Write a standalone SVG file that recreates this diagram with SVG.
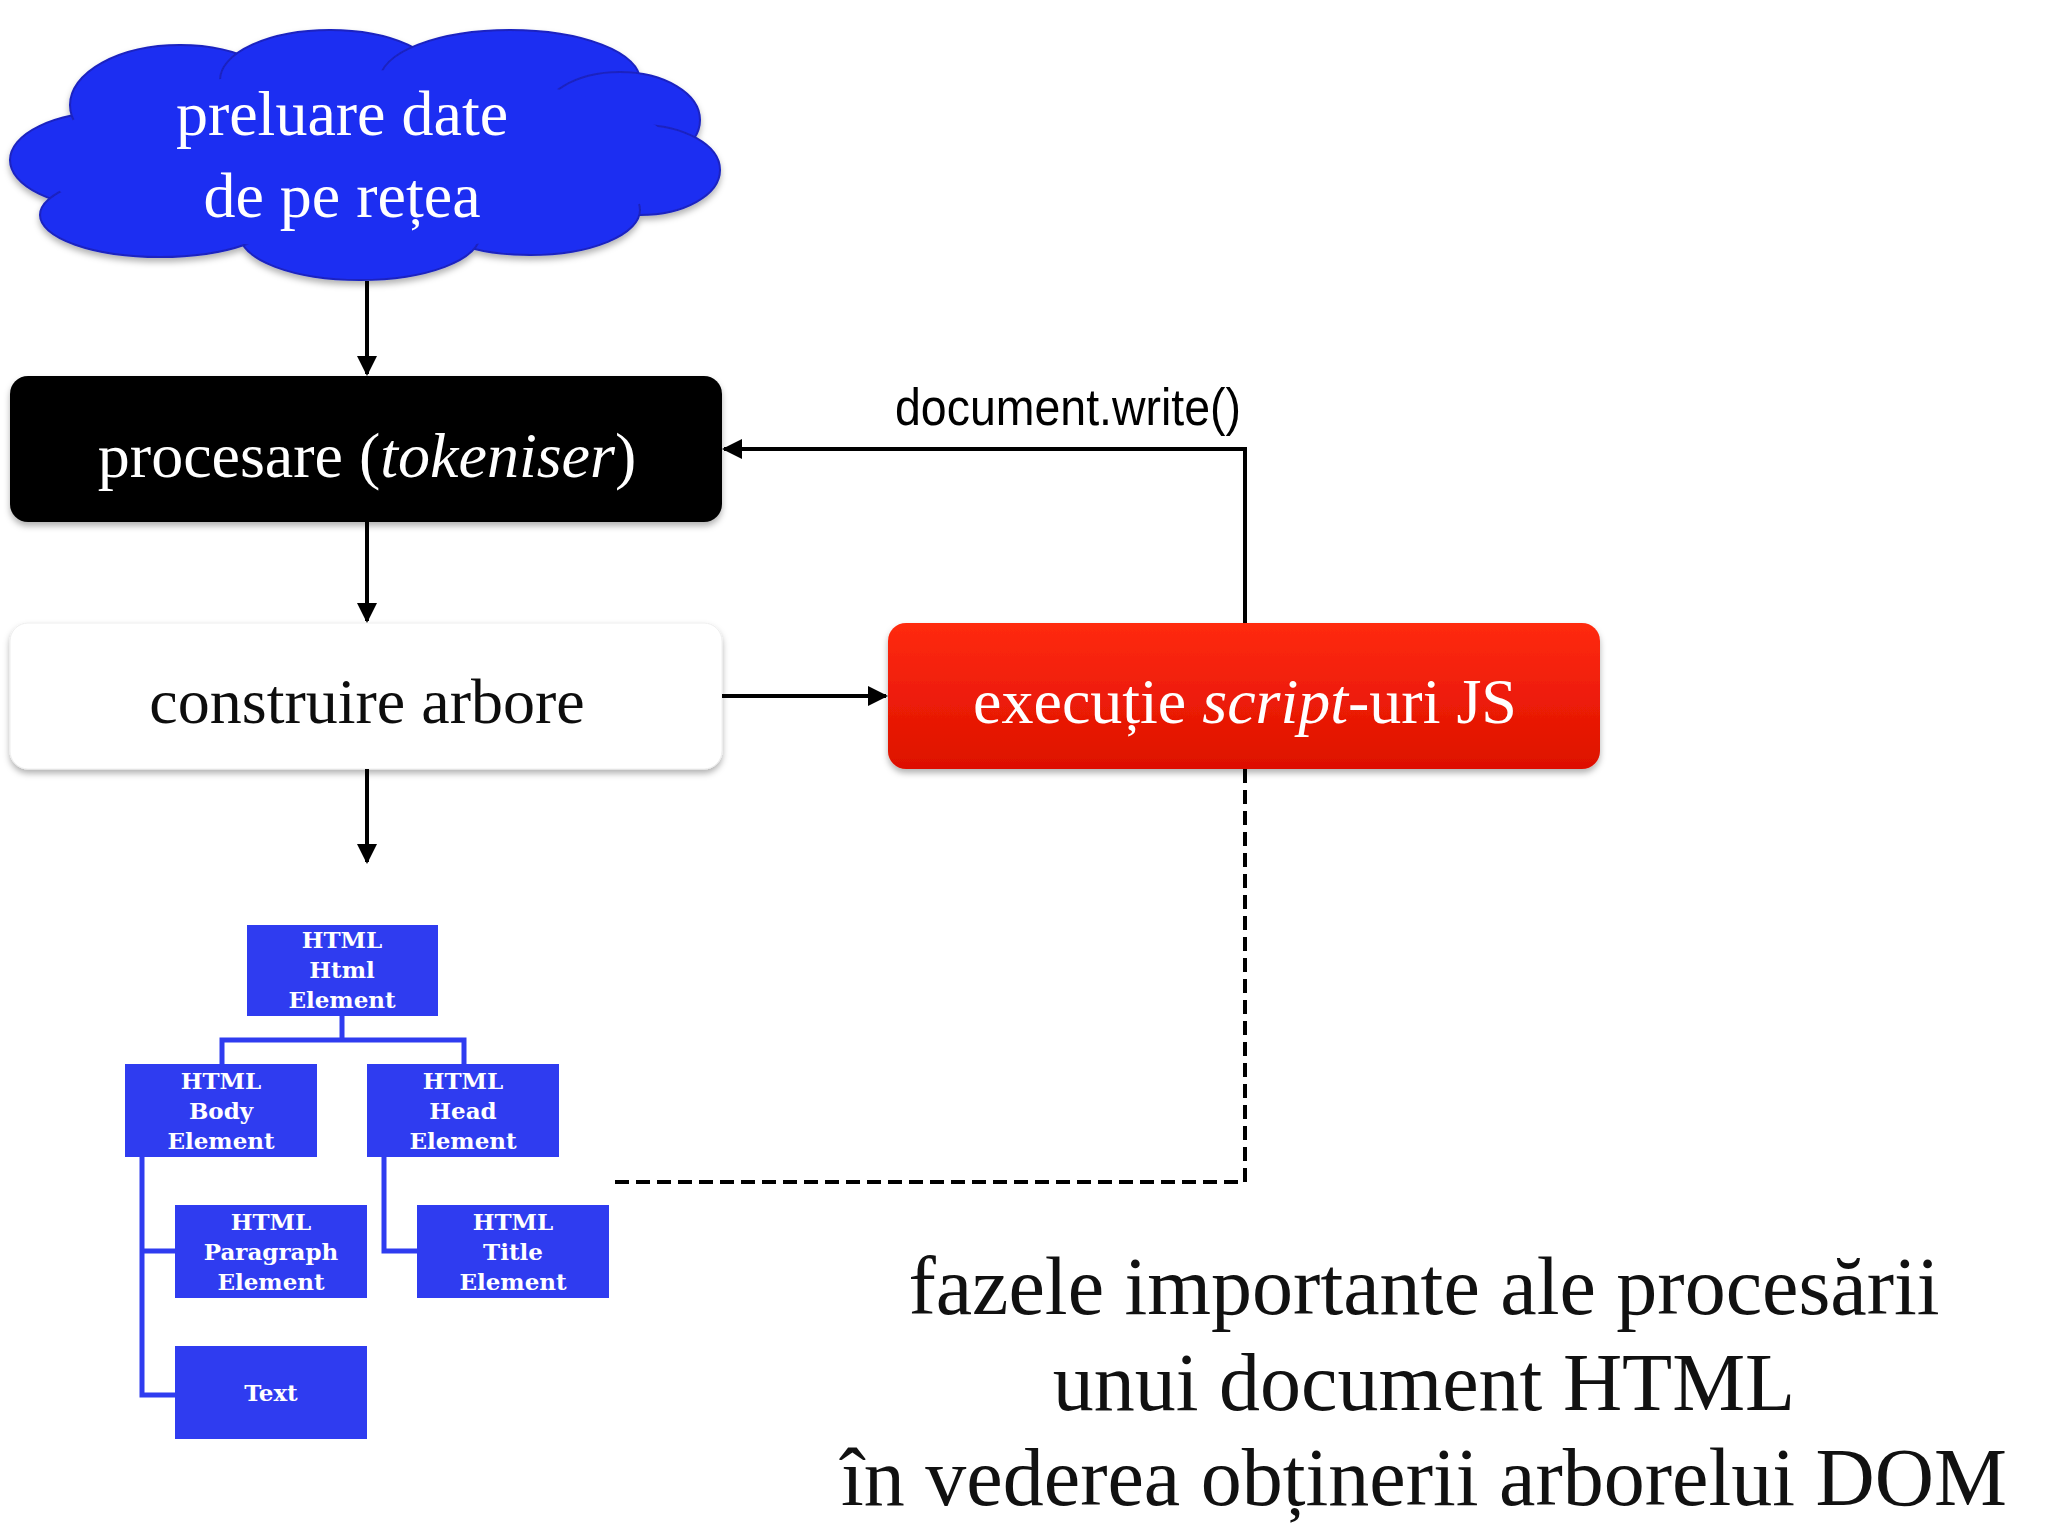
<svg xmlns="http://www.w3.org/2000/svg" width="2048" height="1536" viewBox="0 0 2048 1536">
<defs>
<marker id="ah" viewBox="0 0 10 10" refX="9" refY="5" markerWidth="5" markerHeight="5" orient="auto"><path d="M0,0L10,5L0,10z" fill="#000"/></marker>
<linearGradient id="red" x1="0" y1="0" x2="0" y2="1"><stop offset="0" stop-color="#ff2a10"/><stop offset="1" stop-color="#dd1000"/></linearGradient>
<filter id="sh" x="-5%" y="-5%" width="110%" height="120%"><feDropShadow dx="0" dy="4" stdDeviation="3" flood-opacity="0.3"/></filter>
</defs>
<style>
.big{font-family:"Liberation Serif",serif;font-size:64px;text-anchor:middle}
.tb{fill:#2f3cf0}
.tt{font-family:"DejaVu Serif","Liberation Serif",serif;font-weight:bold;font-size:23px;fill:#fff;text-anchor:middle}
.tl{stroke:#2f3cf0;stroke-width:5;fill:none}
.cap{font-family:"Liberation Serif",serif;font-size:82px;text-anchor:middle;fill:#111}
</style>
<rect width="2048" height="1536" fill="#fff"/>
<g id="cloud" filter="url(#sh)">
<g fill="#1f2ef2" stroke="#1a24c0" stroke-width="2">
<ellipse cx="110" cy="160" rx="100" ry="48"/>
<ellipse cx="180" cy="105" rx="110" ry="60"/>
<ellipse cx="330" cy="80" rx="110" ry="50"/>
<ellipse cx="510" cy="80" rx="130" ry="50"/>
<ellipse cx="620" cy="120" rx="80" ry="48"/>
<ellipse cx="640" cy="170" rx="80" ry="45"/>
<ellipse cx="530" cy="210" rx="110" ry="45"/>
<ellipse cx="360" cy="235" rx="120" ry="45"/>
<ellipse cx="160" cy="215" rx="120" ry="42"/>
</g>
<ellipse cx="360" cy="160" rx="320" ry="90" fill="#1f2ef2"/>
<text class="big" x="342" y="135" fill="#fff">preluare date</text>
<text class="big" x="342" y="217" fill="#fff">de pe rețea</text>
</g>
<g id="procesare" filter="url(#sh)">
<rect x="10" y="376" width="712" height="146" rx="18" fill="#000"/>
<text class="big" x="367" y="477" fill="#fff">procesare (<tspan font-style="italic">tokeniser</tspan>)</text>
</g>
<g id="construire" filter="url(#sh)">
<rect x="10" y="623" width="712" height="146" rx="18" fill="#fff" stroke="#eee"/>
<text class="big" x="367" y="723" fill="#111">construire arbore</text>
</g>
<g id="executie" filter="url(#sh)">
<rect x="888" y="623" width="712" height="146" rx="18" fill="url(#red)"/>
<text class="big" x="1245" y="723" fill="#fff">execuție <tspan font-style="italic">script</tspan>-uri JS</text>
</g>
<g id="connectors" stroke="#000" stroke-width="4" fill="none">
<line x1="367" y1="281" x2="367" y2="374" marker-end="url(#ah)"/>
<line x1="367" y1="522" x2="367" y2="621" marker-end="url(#ah)"/>
<line x1="722" y1="696" x2="886" y2="696" marker-end="url(#ah)"/>
<line x1="367" y1="769" x2="367" y2="862" marker-end="url(#ah)"/>
<polyline points="1245,623 1245,449 724,449" marker-end="url(#ah)"/>
<polyline points="1245,769 1245,1182 614,1182" stroke-dasharray="14,7"/>
</g>
<text x="895" y="425" font-family="Liberation Sans Narrow,Liberation Sans,sans-serif" font-size="52" textLength="346" lengthAdjust="spacingAndGlyphs" fill="#000">document.write()</text>
<g id="tree">
<path class="tl" d="M342,1016V1040M222,1064V1040H464V1064M142,1157V1395H175M142,1251H175M384,1157V1251H417"/>
<g id="n-html"><rect class="tb" x="247" y="925" width="191" height="91"/><text class="tt" x="342" y="948">HTML</text><text class="tt" x="342" y="978">Html</text><text class="tt" x="342" y="1008">Element</text></g>
<g id="n-body"><rect class="tb" x="125" y="1064" width="192" height="93"/><text class="tt" x="221" y="1089">HTML</text><text class="tt" x="221" y="1119">Body</text><text class="tt" x="221" y="1149">Element</text></g>
<g id="n-head"><rect class="tb" x="367" y="1064" width="192" height="93"/><text class="tt" x="463" y="1089">HTML</text><text class="tt" x="463" y="1119">Head</text><text class="tt" x="463" y="1149">Element</text></g>
<g id="n-par"><rect class="tb" x="175" y="1205" width="192" height="93"/><text class="tt" x="271" y="1230">HTML</text><text class="tt" x="271" y="1260">Paragraph</text><text class="tt" x="271" y="1290">Element</text></g>
<g id="n-title"><rect class="tb" x="417" y="1205" width="192" height="93"/><text class="tt" x="513" y="1230">HTML</text><text class="tt" x="513" y="1260">Title</text><text class="tt" x="513" y="1290">Element</text></g>
<g id="n-text"><rect class="tb" x="175" y="1346" width="192" height="93"/><text class="tt" x="271" y="1401">Text</text></g>
</g>
<g id="caption">
<text class="cap" x="1424" y="1314">fazele importante ale procesării</text>
<text class="cap" x="1424" y="1410">unui document HTML</text>
<text class="cap" x="1424" y="1505">în vederea obținerii arborelui DOM</text>
</g>
</svg>
